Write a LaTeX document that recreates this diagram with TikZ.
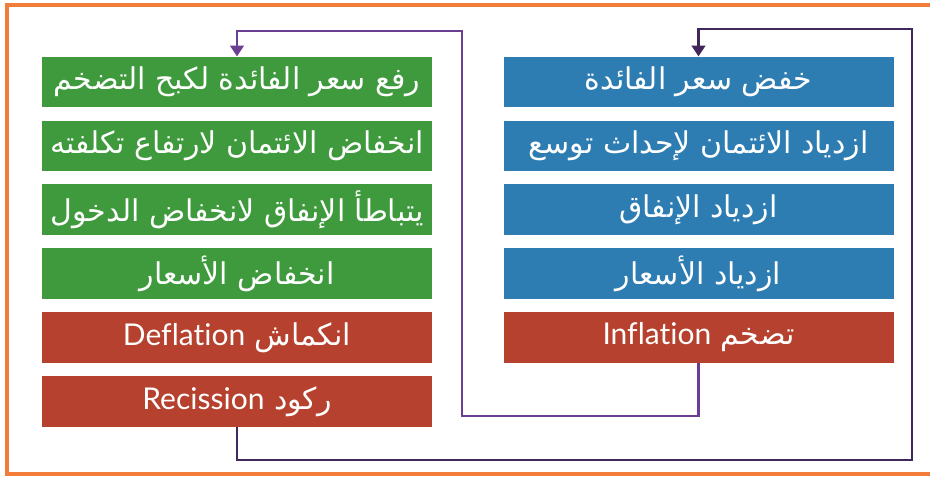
\documentclass[tikz,border=0pt]{standalone}
\usepackage{fontspec}
\usepackage{tikz}
\usetikzlibrary{positioning,arrows.meta}
\TeXXeTstate=1
\newfontfamily\arabicfont[Script=Arabic]{DejaVu Sans}
\newfontfamily\latinfont[Ligatures=NoCommon]{Lato}
\definecolor{framec}{HTML}{F27C3A}
\definecolor{greenc}{HTML}{3E9A3C}
\definecolor{bluec}{HTML}{2E7DB2}
\definecolor{redc}{HTML}{B5412E}
\definecolor{loopa}{HTML}{6A3E92}
\definecolor{loopb}{HTML}{42275A}
\tikzset{
  stagebox/.style={minimum width=292.5pt, minimum height=38pt, inner sep=0pt,
    text=white, font=\arabicfont\fontsize{22.5}{27}\selectfont},
  greenbox/.style={stagebox, fill=greenc},
  bluebox/.style={stagebox, fill=bluec},
  redbox/.style={stagebox, fill=redc},
  loopline/.style={line width=2.2pt, -{Triangle[width=10pt,length=8pt]}}
}
\newcommand{\ar}[1]{\beginR #1\endR}
\newcommand{\lat}[1]{\beginL{\latinfont #1}\endL}

\begin{document}
\begin{tikzpicture}[x=0.75pt,y=-0.75pt,node distance=9.5pt]
        \useasboundingbox (0,0) rectangle (930,478);
        % Frame:
        \draw [framec, line width=2.8pt] (930,5) -- (7,5) -- (7,474) -- (930,474);

        % Left column:
        \node [greenbox] (g1) at (237,82) {\ar{رفع سعر الفائدة لكبح التضخم}};
        \node [greenbox, below=of g1] (g2) {\ar{انخفاض الائتمان لارتفاع تكلفته}};
        \node [greenbox, below=of g2] (g3) {\ar{يتباطأ الإنفاق لانخفاض الدخول}};
        \node [greenbox, below=of g3] (g4) {\ar{انخفاض الأسعار}};
        \node [redbox, below=of g4] (defl) {\ar{انكماش \lat{Deflation}}};
        \node [redbox, below=of defl] (rec) {\ar{ركود \lat{Recission}}};

        % Right column:
        \node [bluebox] (b1) at (698.5,82) {\ar{خفض سعر الفائدة}};
        \node [bluebox, below=of b1] (b2) {\ar{ازدياد الائتمان لإحداث توسع}};
        \node [bluebox, below=of b2] (b3) {\ar{ازدياد الإنفاق}};
        \node [bluebox, below=of b3] (b4) {\ar{ازدياد الأسعار}};
        \node [redbox, below=of b4] (infl) {\ar{تضخم \lat{Inflation}}};

        % Loops:
        \coordinate (lowa) at (462,416);
        \coordinate (topa) at (462,31);
        \coordinate (lowb) at (912,460);
        \coordinate (topb) at (912,29);
        \draw [loopline, loopa] (infl.south) |- (lowa) -- (topa) -| (g1.north);
        \draw [loopline, loopb] (rec.south) |- (lowb) -- (topb) -| (b1.north);
    \end{tikzpicture}
\end{document}
